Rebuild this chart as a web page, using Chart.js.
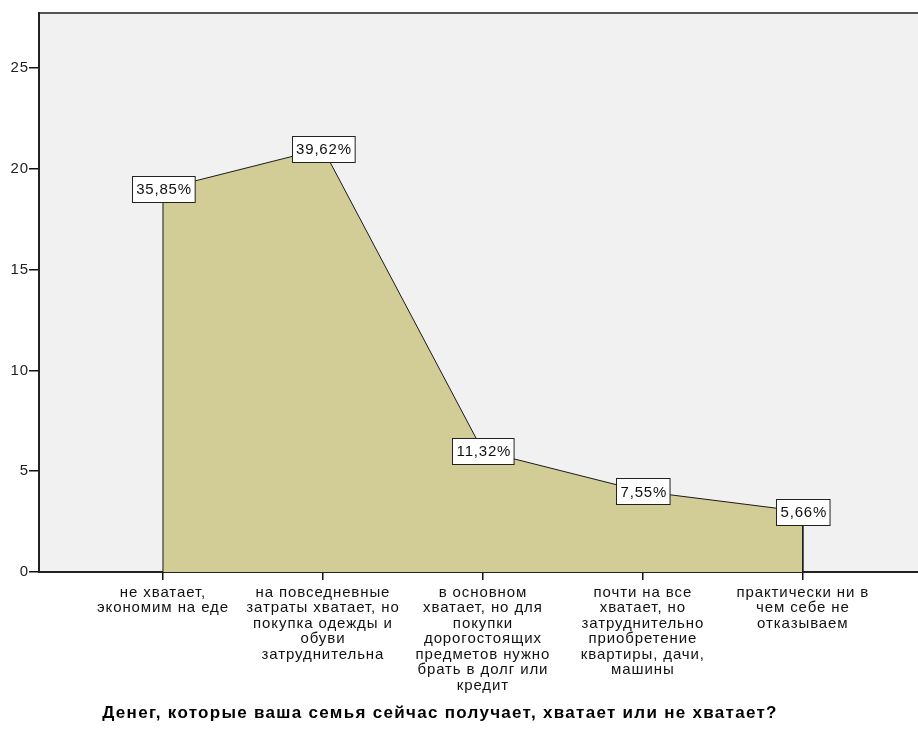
<!DOCTYPE html>
<html>
<head>
<meta charset="utf-8">
<style>
  html, body { margin: 0; padding: 0; background: #ffffff; overflow: hidden; }
  #wrap { width: 918px; height: 736px; }
</style>
<script src="https://cdn.jsdelivr.net/npm/chart.js@4.4.1/dist/chart.umd.min.js"></script>
</head>
<body>
<div id="wrap"><canvas id="chart" width="918" height="736"></canvas></div>
<script>
// Answer categories (wrapped into lines as printed under the axis)
const categories = [
  ['не хватает,', 'экономим на еде'],
  ['на повседневные', 'затраты хватает, но', 'покупка одежды и', 'обуви', 'затруднительна'],
  ['в основном', 'хватает, но для', 'покупки', 'дорогостоящих', 'предметов нужно', 'брать в долг или', 'кредит'],
  ['почти на все', 'хватает, но', 'затруднительно', 'приобретение', 'квартиры, дачи,', 'машины'],
  ['практически ни в', 'чем себе не', 'отказываем']
];

// Number of respondents per answer
const counts = [19, 21, 6, 4, 3];

// Y axis tick values
const yTicks = [0, 5, 10, 15, 20, 25];

const titleText = 'Денег, которые ваша семья сейчас получает, хватает или не хватает?';

const total = counts.reduce((a, b) => a + b, 0);
const pctLabels = counts.map(c => (c / total * 100).toFixed(2).replace('.', ',') + '%');

// Closed outline of the area: drop to zero at both ends
const outline = [{ x: 0, y: 0 }]
  .concat(counts.map((v, i) => ({ x: i, y: v })))
  .concat([{ x: counts.length - 1, y: 0 }]);

const FONT = '"Liberation Sans", Arial, sans-serif';

const plotBackground = {
  id: 'plotBackground',
  beforeDraw(chart) {
    const { ctx, chartArea: a } = chart;
    ctx.save();
    ctx.fillStyle = '#f0f1f0';
    ctx.fillRect(a.left, a.top, a.right - a.left, a.bottom - a.top);
    // top frame line
    ctx.strokeStyle = '#555555';
    ctx.lineWidth = 2;
    ctx.beginPath();
    ctx.moveTo(a.left, a.top);
    ctx.lineTo(a.right, a.top);
    ctx.stroke();
    ctx.restore();
    // slightly spaced lettering for axis texts
    ctx.letterSpacing = '0.9px';
  }
};

const valueBoxes = {
  id: 'valueBoxes',
  afterDatasetsDraw(chart) {
    const { ctx, scales } = chart;
    ctx.save();
    ctx.font = '15px ' + FONT;
    ctx.letterSpacing = '0.8px';
    ctx.textAlign = 'center';
    ctx.textBaseline = 'middle';
    counts.forEach((v, i) => {
      const x = scales.x.getPixelForValue(i);
      const y = scales.y.getPixelForValue(v);
      const w = ctx.measureText(pctLabels[i]).width + 7;
      const h = 26;
      const bx = Math.round(x - w / 2) + 0.5;
      const by = Math.round(y - h / 2) + 0.5;
      ctx.fillStyle = '#ffffff';
      ctx.fillRect(bx, by, w, h);
      ctx.strokeStyle = '#222222';
      ctx.lineWidth = 1;
      ctx.strokeRect(bx, by, w, h);
      ctx.fillStyle = '#111111';
      ctx.fillText(pctLabels[i], x + 1, y + 1);
    });
    ctx.restore();
  }
};

const bottomTitle = {
  id: 'bottomTitle',
  afterDraw(chart) {
    const { ctx } = chart;
    ctx.save();
    ctx.font = 'bold 17px ' + FONT;
    ctx.letterSpacing = '1.3px';
    ctx.fillStyle = '#000000';
    ctx.textAlign = 'center';
    ctx.textBaseline = 'middle';
    ctx.fillText(titleText, 440, 713);
    ctx.restore();
  }
};

new Chart(document.getElementById('chart'), {
  type: 'line',
  data: {
    datasets: [{
      data: outline,
      fill: 'origin',
      backgroundColor: '#d2cd96',
      borderColor: '#1a1a1a',
      borderWidth: 1,
      pointRadius: 0,
      tension: 0
    }]
  },
  options: {
    responsive: false,
    animation: false,
    events: [],
    layout: { padding: { top: 13, left: 0, right: 0, bottom: 0 } },
    plugins: {
      legend: { display: false },
      tooltip: { enabled: false },
      title: { display: false }
    },
    scales: {
      x: {
        type: 'linear',
        min: -0.775,
        max: 4.72,
        afterBuildTicks(scale) {
          scale.ticks = categories.map((_, i) => ({ value: i }));
        },
        afterFit(scale) { scale.height = 164; },
        ticks: {
          autoSkip: false,
          maxRotation: 0,
          minRotation: 0,
          padding: 5,
          color: '#111111',
          font: { family: FONT, size: 15, lineHeight: 1.03 },
          callback: (value) => categories[value] || ''
        },
        grid: {
          drawOnChartArea: false,
          drawTicks: true,
          tickLength: 8,
          color: '#111111',
          lineWidth: 1.5
        },
        border: { display: true, color: '#222222', width: 2 }
      },
      y: {
        type: 'linear',
        min: 0,
        max: 27.73,
        afterBuildTicks(scale) {
          scale.ticks = yTicks.map(v => ({ value: v }));
        },
        afterFit(scale) { scale.width = 39; },
        ticks: {
          padding: 0,
          color: '#222222',
          font: { family: FONT, size: 15 }
        },
        grid: {
          drawOnChartArea: false,
          drawTicks: true,
          tickLength: 10,
          color: '#111111',
          lineWidth: 1.5
        },
        border: { display: true, color: '#222222', width: 2 }
      }
    }
  },
  plugins: [plotBackground, valueBoxes, bottomTitle]
});
</script>
</body>
</html>
